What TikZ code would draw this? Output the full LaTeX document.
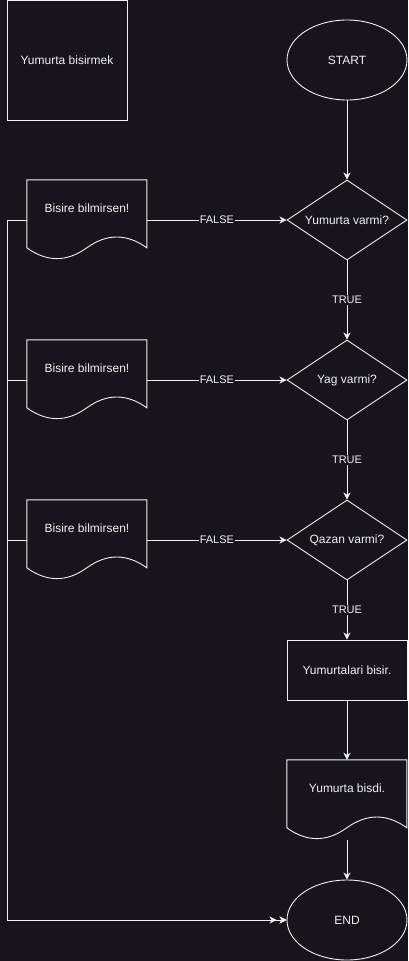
\documentclass[tikz,border=0pt]{standalone}
\usepackage{fontspec}
\setmainfont{Liberation Sans}
\usetikzlibrary{shapes.geometric,arrows.meta}
\definecolor{bg}{HTML}{18141D}
\definecolor{fg}{HTML}{F0F0F0}
\newcommand\docoutline[1]{\begin{scope}[shift={(#1.north west)}]\draw[ln] (0,0) -- (120,0) -- (120,68) .. controls (100,53.6) and (80,53.6) .. (60,68) .. controls (40,82.4) and (20,82.4) .. (0,68) -- cycle;\end{scope}}
\begin{document}
\begin{tikzpicture}[x=1pt,y=-1pt,
  every node/.style={text=fg, font=\fontsize{12}{14}\selectfont},
  ln/.style={draw=fg, line width=0.9pt},
  conn/.style={draw=fg, line width=0.9pt, -{Stealth[length=7pt,width=7pt,inset=2pt]}},
  plainconn/.style={draw=fg, line width=0.9pt},
  box/.style={ln, rectangle, minimum width=120pt, minimum height=#1, inner sep=0pt},
  docbox/.style={rectangle, minimum width=120pt, minimum height=80pt, inner sep=0pt},
  oval/.style={ln, ellipse, minimum width=120pt, minimum height=80pt, inner sep=0pt},
  dia/.style={ln, diamond, minimum width=120pt, minimum height=80pt, inner sep=0pt},
  edgelbl/.style={fill=bg, inner sep=1pt, font=\fontsize{11}{13}\selectfont}]
\fill[bg] (0,0) rectangle (408,961);
\useasboundingbox (0,0) rectangle (408,961);

\node[box=120pt] (title) at (67,60) {Yumurta bisirmek};
\node[oval] (start) at (347,60) {START};
\node[dia, label=center:{Yumurta varmi?}] (q1) at (347,220) {};
\node[dia, label=center:{Yag varmi?}] (q2) at (347,380) {};
\node[dia, label=center:{Qazan varmi?}] (q3) at (347,540) {};
\node[box=60pt] (cook) at (347,670) {Yumurtalari bisir.};
\node[docbox, label={[yshift=12pt]center:{Yumurta bisdi.}}] (done) at (347,800) {};
\node[oval] (end) at (347,920) {END};

\node[docbox, label={[yshift=12pt]center:{Bisire bilmirsen!}}] (d1) at (87,220) {};
\node[docbox, label={[yshift=12pt]center:{Bisire bilmirsen!}}] (d2) at (87,380) {};
\node[docbox, label={[yshift=12pt]center:{Bisire bilmirsen!}}] (d3) at (87,540) {};

\docoutline{d1}
\docoutline{d2}
\docoutline{d3}
\docoutline{done}

\coordinate (doneout) at (347,840);

% main flow
\draw[conn] (start) -- (q1);
\draw[conn] (q1) -- node[edgelbl] {TRUE} (q2);
\draw[conn] (q2) -- node[edgelbl] {TRUE} (q3);
\draw[conn] (q3.south) -- node[edgelbl, pos=0.5] {TRUE} (cook.north);
\draw[conn] (cook) -- (done.north);
\draw[conn] (doneout) -- (end);

% FALSE branches
\draw[conn] (d1.east) -- node[edgelbl] {FALSE} (q1.west);
\draw[conn] (d2.east) -- node[edgelbl] {FALSE} (q2.west);
\draw[conn] (d3.east) -- node[edgelbl] {FALSE} (q3.west);

% left returns to END
\draw[conn] (d1.west) -- (7,220) |- (end.west);
\draw[conn] (d2.west) -- (7,380) |- (end.west);
\draw[conn, shorten >=10pt] (d3.west) -- (7,540) |- (end.west);
\end{tikzpicture}
\end{document}
